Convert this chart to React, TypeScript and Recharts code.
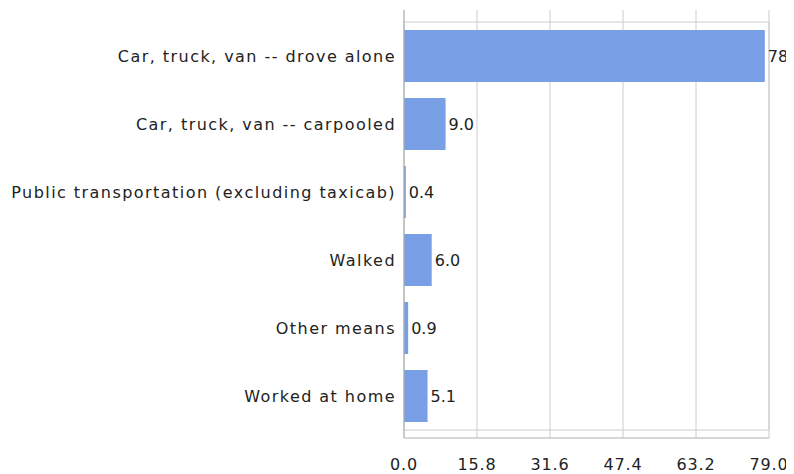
import React from 'react';
import { BarChart, Bar, XAxis, YAxis, CartesianGrid, LabelList, ReferenceArea } from 'recharts';

const categories = [
  'Car, truck, van -- drove alone',
  'Car, truck, van -- carpooled',
  'Public transportation (excluding taxicab)',
  'Walked',
  'Other means',
  'Worked at home',
];
const values = [78.1, 9.0, 0.4, 6.0, 0.9, 5.1];
const xTicks = [0, 15.8, 31.6, 47.4, 63.2, 79.0];

const data = categories.map((name, i) => ({ name, value: values[i] }));

const FONT = '"DejaVu Sans", sans-serif';

const XTick = (props: any) => {
  const { x, y, payload } = props;
  return (
    <text x={x} y={y + 18} textAnchor="middle" dominantBaseline="central" fontFamily={FONT} fontSize={16} letterSpacing={0.8} fill="#222">
      {Number(payload.value).toFixed(1)}
    </text>
  );
};

const YTick = (props: any) => {
  const { y, payload } = props;
  return (
    <text x={388} y={y} textAnchor="end" dominantBaseline="central" fontFamily={FONT} fontSize={16} letterSpacing={1.45} fill="#222">
      {payload.value}
    </text>
  );
};

const ValueLabel = (props: any) => {
  const { x, y, width, height, value } = props;
  return (
    <text x={x + width + 3} y={y + height / 2} textAnchor="start" dominantBaseline="central" fontFamily={FONT} fontSize={16} fill="#222">
      {Number(value).toFixed(1)}
    </text>
  );
};

export default function App() {
  return (
    <BarChart
      layout="vertical"
      width={786}
      height={466}
      data={data}
      margin={{ top: 2, right: 25, bottom: 0, left: 0 }}
    >
      <CartesianGrid horizontal={false} vertical={true} stroke="#cccccc" />
      <XAxis
        type="number"
        domain={[0, 79]}
        ticks={xTicks}
        height={36}
        tickLine={false}
        axisLine={{ stroke: '#b0b0b0' }}
        tick={<XTick />}
        interval={0}
      />
      <YAxis
        type="category"
        dataKey="name"
        width={396}
        tickLine={false}
        axisLine={{ stroke: '#b0b0b0' }}
        padding={{ top: 12, bottom: 8 }}
        tick={<YTick />}
        interval={0}
      />
      <ReferenceArea x1={0} x2={79} fill="none" stroke="#cccccc" strokeOpacity={1} fillOpacity={0} />
      <Bar dataKey="value" fill="#79a0e6" barSize={52} isAnimationActive={false}>
        <LabelList dataKey="value" content={<ValueLabel />} />
      </Bar>
    </BarChart>
  );
}
